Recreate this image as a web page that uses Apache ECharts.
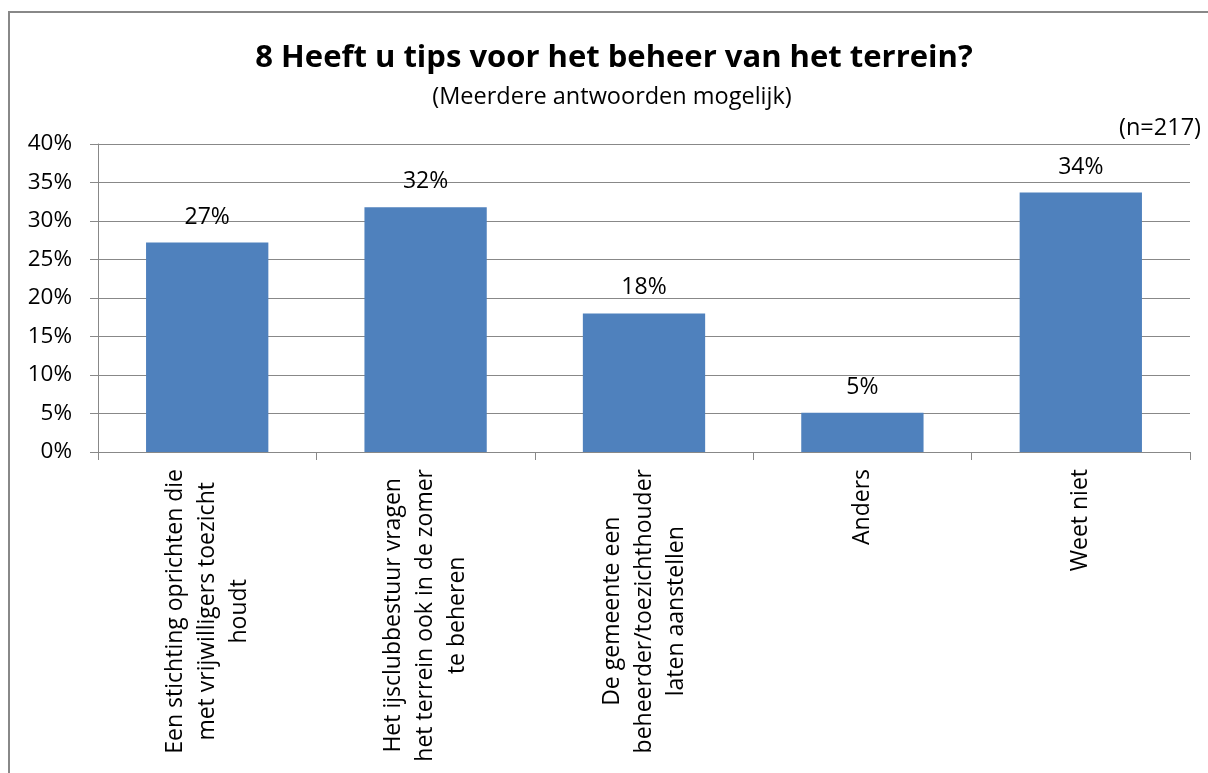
<!DOCTYPE html>
<html>
<head>
<meta charset="utf-8">
<script src="https://cdn.jsdelivr.net/npm/echarts@6/dist/echarts.min.js"></script>
<style>html,body{margin:0;padding:0;background:#fff}#c{width:1208px;height:773px}</style>
</head>
<body>
<div id="c"></div>
<script>
const titleText = '8 Heeft u tips voor het beheer van het terrein?';
const subtitleText = '(Meerdere antwoorden mogelijk)';
const nText = '(n=217)';
const categories = [
  'Een stichting oprichten die met vrijwilligers toezicht houdt',
  'Het ijsclubbestuur vragen het terrein ook in de zomer te beheren',
  'De gemeente een beheerder/toezichthouder laten aanstellen',
  'Anders',
  'Weet niet'
];
const categoryLines = [
  ['Een stichting oprichten die', 'met vrijwilligers toezicht', 'houdt'],
  ['Het ijsclubbestuur vragen', 'het terrein ook in de zomer', 'te beheren'],
  ['De gemeente een', 'beheerder/toezichthouder', 'laten aanstellen'],
  ['Anders'],
  ['Weet niet']
];
const values = [27.2, 31.8, 18.0, 5.1, 33.7];
const yTicks = [0, 5, 10, 15, 20, 25, 30, 35, 40];

const FONT = '"Open Sans", "Noto Sans", sans-serif';
const chart = echarts.init(document.getElementById('c'));
chart.setOption({
  animation: false,
  grid: {left: 98, right: 18, top: 144, bottom: 321, containLabel: false},
  graphic: [
    {type: 'rect', shape: {x: 9, y: 12, width: 1400, height: 1000}, style: {fill: 'none', stroke: '#888888', lineWidth: 2}},
    {type: 'text', x: 614, y: 58, style: {text: titleText, font: 'bold 31px ' + FONT, fill: '#000', align: 'center', verticalAlign: 'middle'}},
    {type: 'text', x: 612, y: 97, style: {text: subtitleText, font: '23.5px ' + FONT, fill: '#000', align: 'center', verticalAlign: 'middle'}},
    {type: 'text', x: 1201, y: 128, style: {text: nText, font: '23.5px ' + FONT, fill: '#000', align: 'right', verticalAlign: 'middle'}}
  ],
  xAxis: {
    type: 'category',
    data: categories,
    axisLine: {lineStyle: {color: '#888888', width: 1}},
    axisTick: {show: true, length: 8, lineStyle: {color: '#888888'}},
    splitLine: {show: false},
    axisLabel: {
      interval: 0,
      rotate: 90,
      margin: 17,
      color: '#000',
      fontFamily: FONT,
      fontSize: 23,
      lineHeight: 32,
      formatter: function (v, i) {
        return categoryLines[i].map(l => '{c|' + l + '}').join('\n');
      },
      rich: {c: {align: 'center', fontFamily: FONT, fontSize: 23, lineHeight: 32, color: '#000'}}
    }
  },
  yAxis: {
    type: 'value',
    min: 0, max: 40, interval: 5,
    axisLine: {show: true, lineStyle: {color: '#888888', width: 1}},
    axisTick: {show: true, length: 8, lineStyle: {color: '#888888'}},
    splitLine: {show: true, lineStyle: {color: '#888888', width: 1}},
    axisLabel: {formatter: v => v + '%', color: '#000', fontFamily: FONT, fontSize: 22.5, margin: 26}
  },
  series: [{
    type: 'bar',
    data: values,
    barCategoryGap: '44%',
    itemStyle: {color: '#4F81BD'},
    label: {show: true, position: 'top', distance: 14, color: '#000', fontFamily: FONT, fontSize: 23, formatter: p => Math.round(p.value) + '%'}
  }]
});
</script>
</body>
</html>
